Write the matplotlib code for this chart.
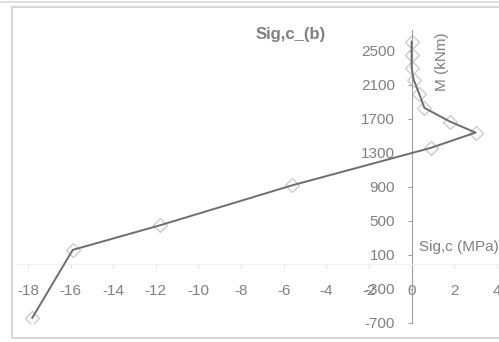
import numpy as np
import matplotlib
matplotlib.use('Agg')
import matplotlib.pyplot as plt
from matplotlib.patches import Rectangle

plt.rcParams['font.family'] = ['Liberation Sans', 'DejaVu Sans']
plt.rcParams['axes.unicode_minus'] = False

# stress (MPa) vs moment (kNm)
sig_c = [-17.8, -15.9, -11.8, -5.6, 0.9, 3.0, 1.8, 0.6, 0.35, 0.1, 0.0, 0.0, 0.0]
moment = [-640, 160, 450, 920, 1360, 1540, 1670, 1830, 2000, 2160, 2300, 2450, 2610]

x_ticks = [-18, -16, -14, -12, -10, -8, -6, -4, -2, 0, 2, 4]
y_ticks = [-700, -300, 100, 500, 900, 1300, 1700, 2100, 2500]

grey = '#808080'

fig = plt.figure(figsize=(4.99, 3.42), dpi=100)

# chart border like the Excel chart area
fig.patches.append(Rectangle((12 / 499, 4 / 342), 1.0, 331 / 342, transform=fig.transFigure,
                             fill=False, edgecolor='#d0d0d0', linewidth=1.2))
fig.patches.append(Rectangle((0, 339 / 342), 1.0, 2 / 342, transform=fig.transFigure,
                             facecolor='#e0e0e0', edgecolor='none'))

ax = fig.add_axes([17.3 / 499, 19 / 342, (499 - 17.3) / 499, (323 - 29.75) / 342])
ax.set_xlim(-18.5, 4.1)
ax.set_ylim(-700, 2750)

ax.plot(sig_c, moment, color='#6e6e6e', linewidth=1.4, zorder=3)
ax.plot(sig_c, moment, linestyle='none', marker='D', markersize=7,
        markerfacecolor='none', markeredgecolor='#c8c8c8', markeredgewidth=0.9, zorder=2)

for s in ['top', 'right']:
    ax.spines[s].set_visible(False)
ax.spines['left'].set_position(('data', 0))
ax.spines['bottom'].set_position(('data', 0))
ax.spines['left'].set_color('#a0a0a0')
ax.spines['bottom'].set_color('#f0f0f0')

ax.set_xticks(x_ticks)
ax.set_yticks(y_ticks)
ax.tick_params(axis='x', colors='#e0e0e0', length=3, labelcolor=grey, labelsize=11, pad=12)
ax.tick_params(axis='y', colors='#a0a0a0', length=3, labelcolor=grey, labelsize=11, pad=9)
ax.patch.set_alpha(0)

fig.text(291 / 499, 1 - 35 / 342, 'Sig,c_(b)', ha='center', va='center',
         fontsize=12, fontweight='bold', color=grey)
fig.text(442 / 499, 1 - 62 / 342, 'M (kNm)', ha='center', va='center',
         rotation=90, fontsize=11, color=grey)
fig.text(499 / 499, 1 - 247 / 342, 'Sig,c (MPa)', ha='right', va='center',
         fontsize=11, color=grey)

fig.savefig('out.png', dpi=100)
